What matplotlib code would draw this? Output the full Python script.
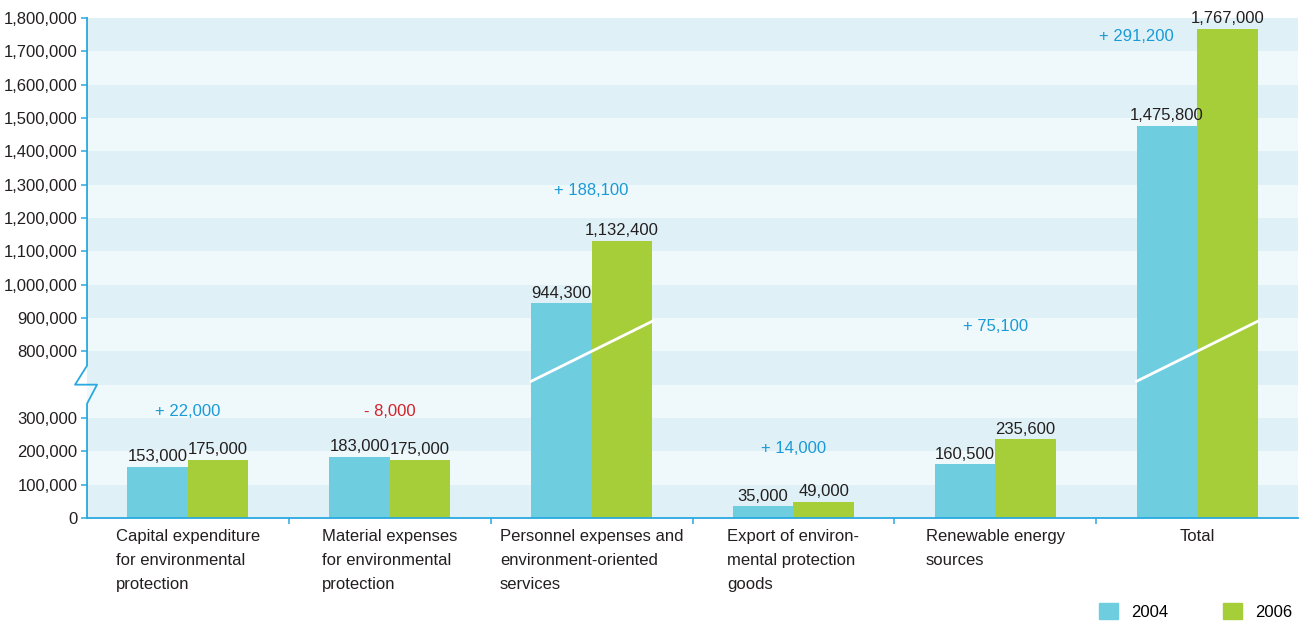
import matplotlib
matplotlib.use("Agg")
import matplotlib.pyplot as plt
from matplotlib.patches import Patch
import numpy as np

plt.rcParams['font.family'] = ['Liberation Sans', 'DejaVu Sans']

# data
categories = ["Capital expenditure\nfor environmental\nprotection",
              "Material expenses\nfor environmental\nprotection",
              "Personnel expenses and\nenvironment-oriented\nservices",
              "Export of environ-\nmental protection\ngoods",
              "Renewable energy\nsources",
              "Total"]
v2004 = [153000, 183000, 944300, 35000, 160500, 1475800]
v2006 = [175000, 175000, 1132400, 49000, 235600, 1767000]
change = [22000, -8000, 188100, 14000, 75100, 291200]
years = ["2004", "2006"]

low_ticks = [0, 100000, 200000, 300000]
high_ticks = [800000, 900000, 1000000, 1100000, 1200000, 1300000,
              1400000, 1500000, 1600000, 1700000, 1800000]

# broken axis: everything above the break is pulled down by 300,000
BREAK_TOP = 300000
SHIFT = 300000


def to_axis(v):
    v = np.asarray(v, dtype=float)
    return np.where(v > BREAK_TOP + 50000, v - SHIFT, v)


C04 = "#6fcde0"
C06 = "#a6ce39"
AXC = "#29a9e0"
TXT = "#231f20"
PLUS = "#1a9ad6"
MINUS = "#d2232a"
FS = 12

fig = plt.figure(figsize=(13.01, 6.22), dpi=100)
ax = fig.add_axes([0.0669, 0.1672, 0.9308, 0.8039])

ymax = to_axis(high_ticks[-1])
ax.set_xlim(0, len(categories))
ax.set_ylim(0, ymax)

# striped background
for i in range(int(ymax // 100000)):
    ax.axhspan(i * 100000, (i + 1) * 100000,
               color="#dff1f6" if i % 2 == 0 else "#eff8fb", lw=0, zorder=0)

x = np.arange(len(categories)) + 0.5
w = 0.3
y04 = to_axis(v2004)
y06 = to_axis(v2006)
ax.bar(x - w / 2, y04, w, color=C04, zorder=2)
ax.bar(x + w / 2, y06, w, color=C06, zorder=2)

for xi, a, b, va, vb in zip(x, y04, y06, v2004, v2006):
    ax.text(xi - w / 2, a + 8000, f"{va:,}", ha="center", va="bottom",
            fontsize=FS, color=TXT, zorder=4)
    ax.text(xi + w / 2, b + 8000, f"{vb:,}", ha="center", va="bottom",
            fontsize=FS, color=TXT, zorder=4)
    # white slash across bars that run through the break
    if va > BREAK_TOP:
        ax.plot([xi - w, xi + w], [410000, 590000], color="white", lw=2, zorder=3)

# change labels
change_y = [320000, 320000, 983000, 207000, 575000, 1444000]
change_dx = [0, 0, 0, 0, 0, -0.3]
for xi, d, yy, dx in zip(x, change, change_y, change_dx):
    s = f"+ {d:,}" if d > 0 else f"- {abs(d):,}"
    ax.text(xi + dx, yy, s, ha="center", va="center", fontsize=FS,
            color=PLUS if d > 0 else MINUS, zorder=4)

# y axis
ax.set_yticks(list(to_axis(low_ticks)) + list(to_axis(high_ticks)))
ax.set_yticklabels([f"{t:,}" for t in low_ticks + high_ticks])
ax.tick_params(axis="y", length=4, width=1.1, color=AXC, labelsize=FS,
               labelcolor=TXT, pad=3)

# x axis: ticks between groups, labels under group centres
ax.set_xticks(np.arange(1, len(categories)))
ax.set_xticklabels([])
ax.set_xticks(x, minor=True)
ax.set_xticklabels(categories, minor=True, ha="center", multialignment="left",
                   fontsize=FS, color=TXT, linespacing=1.74)
ax.tick_params(axis="x", which="major", length=4, width=1.1, color=AXC, direction="out")
ax.tick_params(axis="x", which="minor", length=0, pad=8)

for s in ["top", "right", "left"]:
    ax.spines[s].set_visible(False)
ax.spines["bottom"].set_color(AXC)
ax.spines["bottom"].set_linewidth(1.3)

# left spine with the break zigzag
tr = ax.get_yaxis_transform()
px = 1.0 / (0.9308 * 1301)
ax.plot([0, 0, -12 * px, 10 * px, 0, 0],
        [ymax, 457000, 400000, 400000, 343000, 0],
        color=AXC, lw=1.3, transform=tr, clip_on=False, zorder=5)

handles = [Patch(color=C04), Patch(color=C06)]
fig.legend(handles, years, loc="lower right", bbox_to_anchor=(0.993, 0.004),
           ncol=2, frameon=False, fontsize=FS, handlelength=1.14,
           handleheight=1.14, handletextpad=0.78, columnspacing=3.3,
           borderpad=0, borderaxespad=0)

fig.savefig("out.png", dpi=100)
